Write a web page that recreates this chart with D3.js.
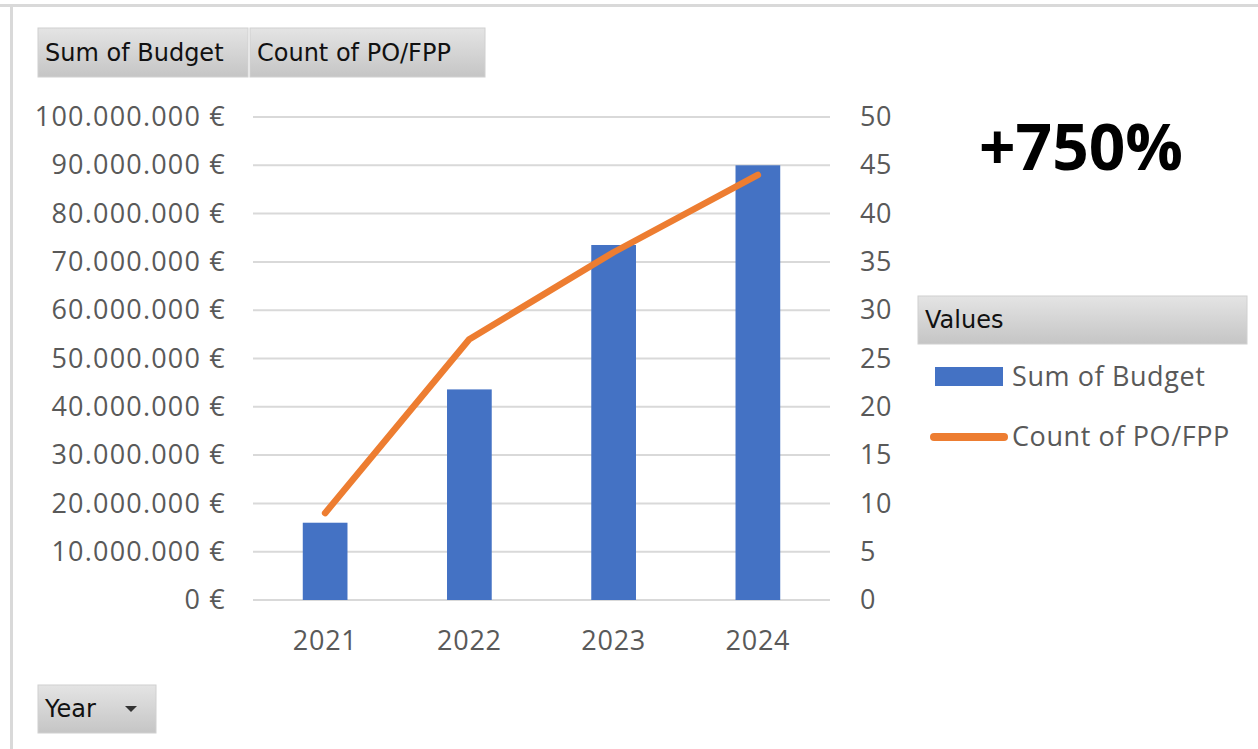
<!DOCTYPE html>
<html>
<head>
<meta charset="utf-8">
<script src="https://cdn.jsdelivr.net/npm/d3@7"></script>
<style>
  html, body { margin: 0; padding: 0; background: #fff; }
  svg { display: block; }
</style>
</head>
<body>
<div id="chart"></div>
<script>
// Data
const years = ['2021', '2022', '2023', '2024'];
const budget = [16000000, 43600000, 73500000, 90000000];
const countPO = [9, 27, 36, 44];
const leftTicks = [0, 10e6, 20e6, 30e6, 40e6, 50e6, 60e6, 70e6, 80e6, 90e6, 100e6];
const rightTicks = [0, 5, 10, 15, 20, 25, 30, 35, 40, 45, 50];
const fieldButtons = ['Sum of Budget', 'Count of PO/FPP'];
const legendItems = ['Sum of Budget', 'Count of PO/FPP'];

const width = 1258;
const height = 749;
const plot = { left: 253, right: 830, top: 117, bottom: 600 };

const blue = '#4472C4';
const orange = '#ED7D31';
const labelColor = '#595959';
const tickFont = '"Open Sans", "Noto Sans", sans-serif';
const buttonFont = '"DejaVu Sans", sans-serif';

const svg = d3.select('#chart')
  .append('svg')
  .attr('width', width)
  .attr('height', height);

// gradient for the pivot field buttons
const grad = svg.append('defs')
  .append('linearGradient')
  .attr('id', 'btn')
  .attr('x1', 0).attr('y1', 0).attr('x2', 0).attr('y2', 1);
grad.append('stop').attr('offset', '0%').attr('stop-color', '#e4e4e4');
grad.append('stop').attr('offset', '100%').attr('stop-color', '#c5c5c5');

// outer frame (top and left edges only are visible)
svg.append('rect').attr('x', 0).attr('y', 4).attr('width', width).attr('height', 3).attr('fill', '#d9d9d9');
svg.append('rect').attr('x', 10).attr('y', 4).attr('width', 3).attr('height', height).attr('fill', '#d9d9d9');

// Scales
const x = d3.scaleBand()
  .domain(years)
  .range([plot.left, plot.right])
  .paddingInner(0.69)
  .paddingOuter(0.345);

const yLeft = d3.scaleLinear()
  .domain([0, 100e6])
  .range([plot.bottom, plot.top]);

const yRight = d3.scaleLinear()
  .domain([0, 50])
  .range([plot.bottom, plot.top]);

const locale = d3.formatLocale({
  decimal: ',',
  thousands: '.',
  grouping: [3],
  currency: ['', '\u00a0€']
});
const euro = locale.format('$,.0f');

// Gridlines
svg.append('g')
  .selectAll('line')
  .data(leftTicks)
  .enter()
  .append('line')
  .attr('x1', plot.left)
  .attr('x2', plot.right)
  .attr('y1', d => yLeft(d))
  .attr('y2', d => yLeft(d))
  .attr('stroke', '#d9d9d9')
  .attr('stroke-width', 2);

// Left axis
const leftAxis = svg.append('g')
  .attr('transform', `translate(${plot.left - 27},0)`)
  .call(d3.axisLeft(yLeft).tickValues(leftTicks).tickFormat(euro).tickSize(0).tickPadding(0));
leftAxis.select('.domain').remove();
leftAxis.selectAll('text')
  .attr('fill', labelColor)
  .style('font-family', tickFont)
  .style('font-size', '27px')
  .style('letter-spacing', '1.2px');

// Right axis
const rightAxis = svg.append('g')
  .attr('transform', `translate(${plot.right + 30},0)`)
  .call(d3.axisRight(yRight).tickValues(rightTicks).tickSize(0).tickPadding(0));
rightAxis.select('.domain').remove();
rightAxis.selectAll('text')
  .attr('fill', labelColor)
  .style('font-family', tickFont)
  .style('font-size', '27px')
  .style('letter-spacing', '0.5px');

// Bottom axis
const bottomAxis = svg.append('g')
  .attr('transform', `translate(0,${plot.bottom + 31})`)
  .call(d3.axisBottom(x).tickSize(0).tickPadding(0));
bottomAxis.select('.domain').remove();
bottomAxis.selectAll('text')
  .attr('fill', labelColor)
  .attr('dy', '0.71em')
  .style('font-family', tickFont)
  .style('font-size', '27px')
  .style('letter-spacing', '0.8px');

// Bars
svg.selectAll('.bar')
  .data(budget)
  .enter()
  .append('rect')
  .attr('class', 'bar')
  .attr('x', (d, i) => x(years[i]))
  .attr('y', d => yLeft(d))
  .attr('width', x.bandwidth())
  .attr('height', d => plot.bottom - yLeft(d))
  .attr('fill', blue);

// Line
const line = d3.line()
  .x((d, i) => x(years[i]) + x.bandwidth() / 2)
  .y(d => yRight(d));

svg.append('path')
  .datum(countPO)
  .attr('fill', 'none')
  .attr('stroke', orange)
  .attr('stroke-width', 6.5)
  .attr('stroke-linecap', 'round')
  .attr('stroke-linejoin', 'round')
  .attr('d', line);

// Pivot field buttons
function button(x0, y0, w, h, label, arrow) {
  const g = svg.append('g');
  g.append('rect')
    .attr('x', x0).attr('y', y0)
    .attr('width', w).attr('height', h)
    .attr('fill', 'url(#btn)')
    .attr('stroke', '#d0d0d0')
    .attr('stroke-width', 1);
  g.append('text')
    .attr('x', x0 + 7)
    .attr('y', y0 + h / 2)
    .attr('dy', '0.35em')
    .attr('fill', '#111')
    .style('font-family', buttonFont)
    .style('font-size', '24px')
    .text(label);
  if (arrow) {
    g.append('path')
      .attr('d', `M${x0 + w - 31},${y0 + h / 2 - 3}l12,0l-6,6z`)
      .attr('fill', '#333');
  }
}

button(38, 28, 210, 49, fieldButtons[0]);
button(250, 28, 235, 49, fieldButtons[1]);
button(38, 685, 118, 48, 'Year', true);
button(918, 296, 329, 48, 'Values');

// Legend
const legend = svg.append('g');
legend.append('rect')
  .attr('x', 935).attr('y', 367)
  .attr('width', 68).attr('height', 19)
  .attr('fill', blue);
legend.append('line')
  .attr('x1', 934).attr('x2', 1004)
  .attr('y1', 437).attr('y2', 437)
  .attr('stroke', orange)
  .attr('stroke-width', 8)
  .attr('stroke-linecap', 'round');
legend.selectAll('.legend-label')
  .data(legendItems)
  .enter()
  .append('text')
  .attr('class', 'legend-label')
  .attr('x', 1012)
  .attr('y', (d, i) => 377 + i * 60)
  .attr('dy', '0.35em')
  .attr('fill', labelColor)
  .style('font-family', tickFont)
  .style('font-size', '27px')
  .style('letter-spacing', '0.6px')
  .text(d => d);

// Growth annotation
svg.append('text')
  .attr('x', 1081)
  .attr('y', 148)
  .attr('dy', '0.35em')
  .attr('text-anchor', 'middle')
  .attr('fill', '#000')
  .style('font-family', tickFont)
  .style('font-weight', 'bold')
  .style('font-size', '64px')
  .text('+750%');
</script>
</body>
</html>
